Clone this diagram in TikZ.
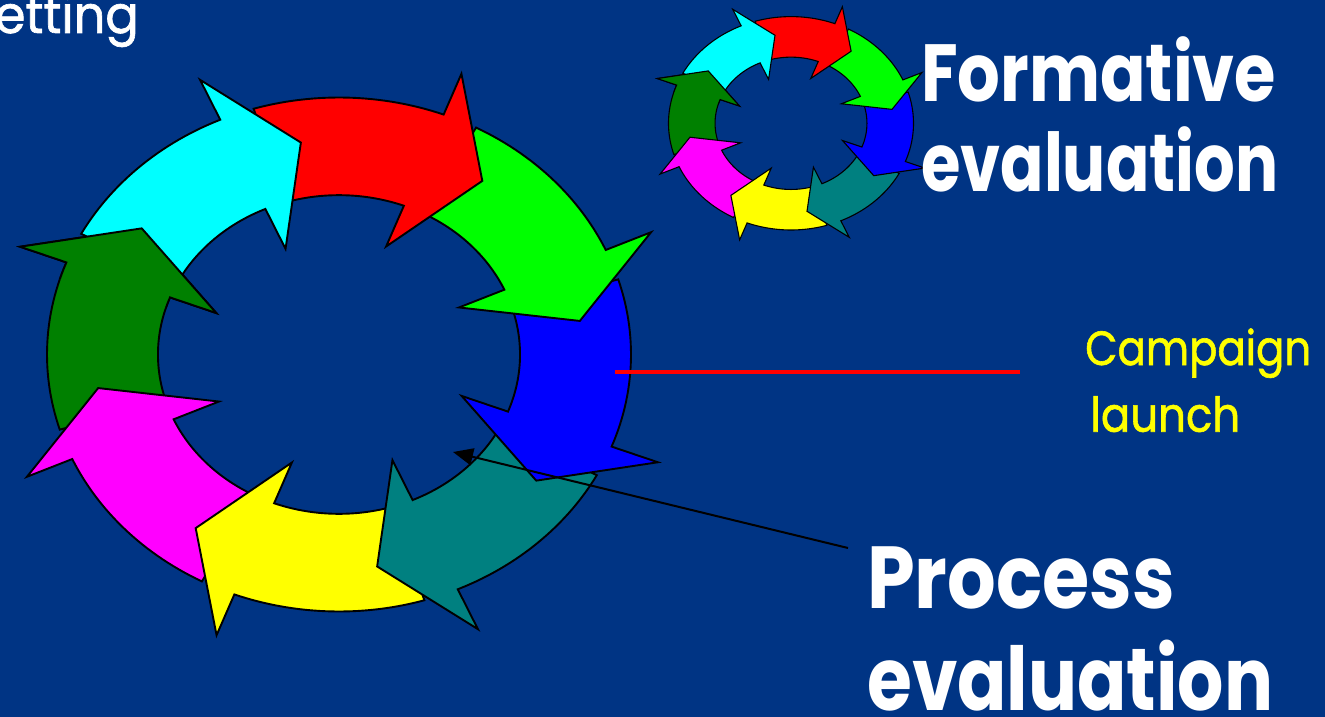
\documentclass[tikz,border=0pt]{standalone}
\usepackage{fontspec}
\setmainfont{Poppins}
\newfontfamily\thickfont{Poppins}[FakeBold=1.3]
\usetikzlibrary{arrows.meta}
\definecolor{bgblue}{RGB}{0,52,132}
\definecolor{dgreen}{RGB}{0,128,0}
\definecolor{teal2}{RGB}{0,128,128}
\definecolor{cyan2}{RGB}{0,255,255}
\definecolor{mag2}{RGB}{255,0,255}
\definecolor{yel2}{RGB}{255,255,0}
\definecolor{grn2}{RGB}{0,255,0}
\definecolor{red2}{RGB}{255,0,0}
\definecolor{blu2}{RGB}{0,0,255}
\definecolor{lblyellow}{RGB}{255,255,0}
\newlength\fitlen
\newcommand\fitto[2]{\settowidth\fitlen{#2}\pgfmathsetmacro\fitsx{#1/\fitlen}\scalebox{\fitsx}[1]{#2}}
\newcommand\ringarrow[2]{%
  \pgfmathsetmacro\raS{#1+38}\pgfmathsetmacro\raT{#1-15}%
  \filldraw[fill=#2] plot[domain=\raS:#1,samples=30] (\x:1) -- (#1:1.17) -- (\raT:0.835) -- (#1:0.45) -- (#1:0.62) -- plot[domain=#1:\raS,samples=30] (\x:0.62) -- cycle;}
\newcommand\myring{%
  \ringarrow{159}{dgreen}\ringarrow{-156}{mag2}\ringarrow{-111}{yel2}\ringarrow{-66}{teal2}%
  \ringarrow{-21}{blu2}\ringarrow{24}{grn2}\ringarrow{69}{red2}\ringarrow{114}{cyan2}%
  \begin{scope}\clip (0,0) -- plot[domain=163:137,samples=10] (\x:1.4) -- cycle; \ringarrow{159}{dgreen}\end{scope}}
\tikzset{
  lbl/.style={anchor=base west, inner sep=0pt, text=white},
  bigtitle/.style={lbl, font=\fontsize{81}{90}\selectfont\bfseries},
  hugetitle/.style={lbl, font=\fontsize{88}{100}\selectfont\bfseries},
  yellowlbl/.style={lbl, text=lblyellow, font=\fontsize{48}{60}\thickfont},
}
\begin{document}
\begin{tikzpicture}[x=1pt,y=-1pt,line join=miter]
\useasboundingbox (0,0) rectangle (1325,717);
\fill[bgblue] (0,0) rectangle (1325,717);
\clip (0,0) rectangle (1325,717);
\node[anchor=base east, inner sep=0pt, text=white, font=\fontsize{52}{60}\thickfont] (setting) at (139,33) {S\fitto{144pt}{etting}};
\begin{scope}[shift={(339,354.5)}, x=292pt, y=257pt, line width=1.9pt]
  \myring
\end{scope}
\begin{scope}[shift={(791,123.3)}, x=122.5pt, y=106.7pt, line width=1.1pt]
  \myring
\end{scope}
\coordinate (launchA) at (615,372);
\coordinate (launchB) at (1020,372);
\draw[red2, line width=4pt] (launchA) -- (launchB);
\coordinate (pStart) at (848,548);
\coordinate (pTip) at (453,452);
\draw[line width=2pt, -{Triangle[length=20pt,width=17pt]}] (pStart) -- (pTip);
\node[bigtitle] (formA) at (921,101.7) {\fitto{355pt}{Formative}};
\node[bigtitle] (formB) at (921,191.7) {\fitto{357pt}{evaluation}};
\node[yellowlbl] (campA) at (1085,365) {\fitto{226pt}{Campaign}};
\node[yellowlbl] (campB) at (1090,431.7) {\fitto{150pt}{launch}};
\node[hugetitle] (procA) at (867,608.3) {\fitto{308pt}{Process}};
\node[hugetitle] (procB) at (867,710) {\fitto{406pt}{evaluation}};
\end{tikzpicture}
\end{document}
